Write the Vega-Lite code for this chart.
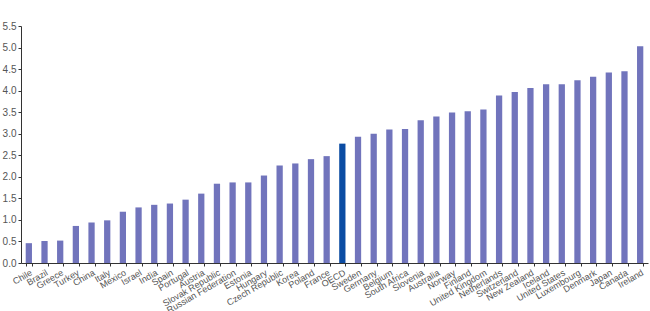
{
  "$schema": "https://vega.github.io/schema/vega-lite/v6.json",
  "width": 627,
  "height": 237,
  "autosize": {"type": "none"},
  "padding": {"left": 21, "top": 26, "right": 2, "bottom": 48},
  "background": "white",
  "config": {"view": {"stroke": null}, "font": "Liberation Sans"},
  "data": {"values": [
    {"country": "Chile", "value": 0.46, "group": "c"},
    {"country": "Brazil", "value": 0.51, "group": "c"},
    {"country": "Greece", "value": 0.52, "group": "c"},
    {"country": "Turkey", "value": 0.86, "group": "c"},
    {"country": "China", "value": 0.94, "group": "c"},
    {"country": "Italy", "value": 0.99, "group": "c"},
    {"country": "Mexico", "value": 1.19, "group": "c"},
    {"country": "Israel", "value": 1.29, "group": "c"},
    {"country": "India", "value": 1.35, "group": "c"},
    {"country": "Spain", "value": 1.38, "group": "c"},
    {"country": "Portugal", "value": 1.47, "group": "c"},
    {"country": "Austria", "value": 1.61, "group": "c"},
    {"country": "Slovak Republic", "value": 1.84, "group": "c"},
    {"country": "Russian Federation", "value": 1.87, "group": "c"},
    {"country": "Estonia", "value": 1.87, "group": "c"},
    {"country": "Hungary", "value": 2.03, "group": "c"},
    {"country": "Czech Republic", "value": 2.26, "group": "c"},
    {"country": "Korea", "value": 2.31, "group": "c"},
    {"country": "Poland", "value": 2.41, "group": "c"},
    {"country": "France", "value": 2.48, "group": "c"},
    {"country": "OECD", "value": 2.77, "group": "o"},
    {"country": "Sweden", "value": 2.93, "group": "c"},
    {"country": "Germany", "value": 3.0, "group": "c"},
    {"country": "Belgium", "value": 3.1, "group": "c"},
    {"country": "South Africa", "value": 3.11, "group": "c"},
    {"country": "Slovenia", "value": 3.31, "group": "c"},
    {"country": "Australia", "value": 3.4, "group": "c"},
    {"country": "Norway", "value": 3.49, "group": "c"},
    {"country": "Finland", "value": 3.52, "group": "c"},
    {"country": "United Kingdom", "value": 3.56, "group": "c"},
    {"country": "Netherlands", "value": 3.89, "group": "c"},
    {"country": "Switzerland", "value": 3.97, "group": "c"},
    {"country": "New Zealand", "value": 4.06, "group": "c"},
    {"country": "Iceland", "value": 4.15, "group": "c"},
    {"country": "United States", "value": 4.15, "group": "c"},
    {"country": "Luxembourg", "value": 4.24, "group": "c"},
    {"country": "Denmark", "value": 4.32, "group": "c"},
    {"country": "Japan", "value": 4.42, "group": "c"},
    {"country": "Canada", "value": 4.45, "group": "c"},
    {"country": "Ireland", "value": 5.03, "group": "c"}
  ]},
  "mark": {"type": "bar"},
  "encoding": {
    "x": {
      "field": "country", "type": "nominal", "sort": null,
      "scale": {"paddingInner": 0.6, "paddingOuter": 0.3},
      "axis": {
        "title": null, "labelAngle": -30, "labelAlign": "right", "labelBaseline": "top",
        "labelFontSize": 9, "labelColor": "#555555", "labelPadding": 2,
        "tickBand": "extent", "tickSize": 3, "tickColor": "#333333",
        "domainColor": "#333333", "labelOverlap": false
      }
    },
    "y": {
      "field": "value", "type": "quantitative",
      "scale": {"domain": [0, 5.5], "nice": false},
      "axis": {
        "title": null, "values": [0, 0.5, 1, 1.5, 2, 2.5, 3, 3.5, 4, 4.5, 5, 5.5],
        "format": ".1f", "grid": false, "labelFontSize": 10, "labelColor": "#555555",
        "tickSize": 3, "tickColor": "#333333", "domainColor": "#333333", "labelPadding": 2
      }
    },
    "color": {
      "field": "group", "type": "nominal", "legend": null,
      "scale": {"domain": ["c", "o"], "range": ["#7174bc", "#0b4ca3"]}
    }
  }
}
